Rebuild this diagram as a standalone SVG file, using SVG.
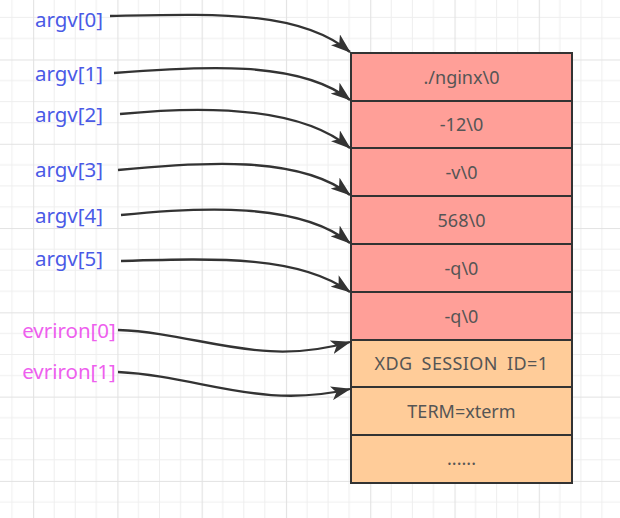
<svg xmlns="http://www.w3.org/2000/svg" width="620" height="518" viewBox="0 0 620 518">
  <defs>
    <pattern id="grid" patternUnits="userSpaceOnUse" x="33.1" y="59.5" width="84.28" height="84.28">
      <path d="M21.07,0 V84.28 M42.14,0 V84.28 M63.21,0 V84.28 M0,21.07 H84.28 M0,42.14 H84.28 M0,63.21 H84.28" stroke="#eeeeee" stroke-width="1" fill="none"/>
      <path d="M0.5,0 V84.28 M0,0.5 H84.28" stroke="#e2e2e2" stroke-width="1.2" fill="none"/>
    </pattern>
    <marker id="arrow" markerUnits="userSpaceOnUse" viewBox="0 0 20 14" refX="19" refY="7" markerWidth="20" markerHeight="14" orient="auto">
      <path d="M0,0 L20,7 L0,14 L5,7 z" fill="#333333"/>
    </marker>
  </defs>
  <style>
    .lbl { font-family: "Noto Sans", "Liberation Sans", sans-serif; font-size: 20.5px; text-anchor: middle; }
    .argv { fill: #4a5ae6; }
    .env { fill: #ee5fee; }
    .cell { stroke: #333333; stroke-width: 2; }
    .red { fill: #ff9f98; }
    .org { fill: #ffcc99; }
    .ct { font-family: "Noto Sans", "Liberation Sans", sans-serif; font-size: 18px; fill: #555555; text-anchor: middle; }
    .edge { fill: none; stroke: #333333; stroke-width: 2.3; marker-end: url(#arrow); }
  </style>
  <rect width="620" height="518" fill="#ffffff"/>
  <rect width="620" height="518" fill="url(#grid)"/>

  <g id="labels">
    <text id="lbl-argv0" class="lbl argv" x="69" y="27">argv[0]</text>
    <text id="lbl-argv1" class="lbl argv" x="69" y="81">argv[1]</text>
    <text id="lbl-argv2" class="lbl argv" x="69" y="122">argv[2]</text>
    <text id="lbl-argv3" class="lbl argv" x="69" y="177">argv[3]</text>
    <text id="lbl-argv4" class="lbl argv" x="69" y="223">argv[4]</text>
    <text id="lbl-argv5" class="lbl argv" x="69" y="266">argv[5]</text>
    <text id="lbl-env0" class="lbl env" x="69" y="338">evriron[0]</text>
    <text id="lbl-env1" class="lbl env" x="69" y="379">evriron[1]</text>
  </g>

  <g id="cells">
    <g id="cell0"><rect class="cell red" x="351" y="53" width="221" height="48"/><text class="ct" x="461.5" y="83.5">./nginx\0</text></g>
    <g id="cell1"><rect class="cell red" x="351" y="101" width="221" height="47"/><text class="ct" x="461.5" y="131">-12\0</text></g>
    <g id="cell2"><rect class="cell red" x="351" y="148" width="221" height="48"/><text class="ct" x="461.5" y="178.5">-v\0</text></g>
    <g id="cell3"><rect class="cell red" x="351" y="196" width="221" height="48"/><text class="ct" x="461.5" y="226.5">568\0</text></g>
    <g id="cell4"><rect class="cell red" x="351" y="244" width="221" height="48"/><text class="ct" x="461.5" y="274.5">-q\0</text></g>
    <g id="cell5"><rect class="cell red" x="351" y="292" width="221" height="48"/><text class="ct" x="461.5" y="322.5">-q\0</text></g>
    <g id="cell6"><rect class="cell org" x="351" y="340" width="221" height="47"/><text class="ct" x="461.5" y="370" word-spacing="4" letter-spacing="0.4">XDG SESSION ID=1</text></g>
    <g id="cell7"><rect class="cell org" x="351" y="387" width="221" height="48"/><text class="ct" x="461.5" y="417.5">TERM=xterm</text></g>
    <g id="cell8"><rect class="cell org" x="351" y="435" width="221" height="48"/><text class="ct" x="461.5" y="465">......</text></g>
  </g>

  <g id="connectors">
    <path class="edge" d="M110,16 C215,14 300,10 350,52"/>
    <path class="edge" d="M114,73 C200,66 300,60 350,100"/>
    <path class="edge" d="M120,114 C200,106 300,106 350,148"/>
    <path class="edge" d="M118,170 C200,162 300,155 350,195"/>
    <path class="edge" d="M121,215 C200,207 300,202 350,243"/>
    <path class="edge" d="M121,261 C220,258 300,256 350,292"/>
    <path class="edge" d="M118,330 C200,333 260,368 350,342"/>
    <path class="edge" d="M118,372 C200,376 260,410 350,389"/>
  </g>
</svg>
